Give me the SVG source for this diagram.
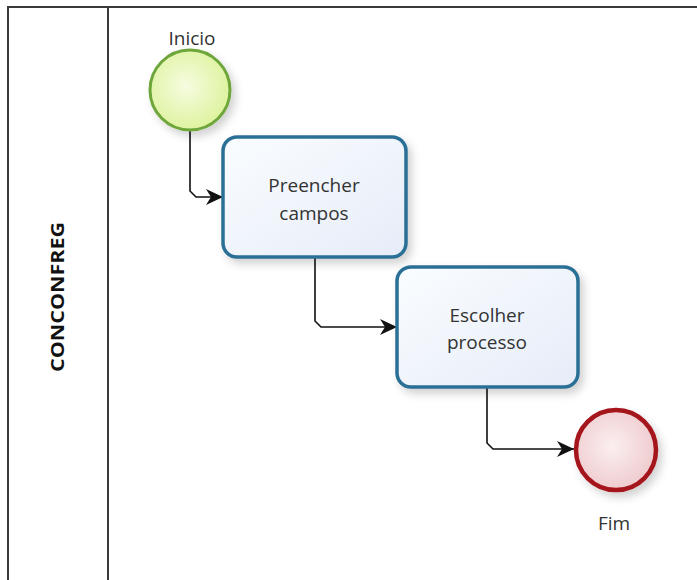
<svg xmlns="http://www.w3.org/2000/svg" width="697" height="580" viewBox="0 0 697 580">
  <defs>
    <style>
      .lane { stroke: #3a3a3a; stroke-width: 2; fill: none; }
      .lbl { font-family: "Open Sans", "Noto Sans", sans-serif; font-size: 19px; fill: #333; text-anchor: middle; }
      .task { fill: url(#taskFill); stroke: #2b7096; stroke-width: 3.5; }
      .flow { stroke: #111; stroke-width: 1.6; fill: none; marker-end: url(#arrow); }
    </style>
    <linearGradient id="taskFill" x1="0" y1="0" x2="1" y2="1">
      <stop offset="0" stop-color="#fafdff"/>
      <stop offset="1" stop-color="#e6ecf8"/>
    </linearGradient>
    <radialGradient id="startFill" cx="0.45" cy="0.45" r="0.6">
      <stop offset="0" stop-color="#f6fce0"/>
      <stop offset="1" stop-color="#dcf29a"/>
    </radialGradient>
    <radialGradient id="endFill" cx="0.45" cy="0.45" r="0.6">
      <stop offset="0" stop-color="#fbeff0"/>
      <stop offset="1" stop-color="#eec9cc"/>
    </radialGradient>
    <filter id="shadow" x="-20%" y="-20%" width="150%" height="150%">
      <feDropShadow dx="4" dy="5" stdDeviation="4" flood-color="#000" flood-opacity="0.18"/>
    </filter>
    <marker id="arrow" markerWidth="18" markerHeight="16" refX="17" refY="8" orient="auto" markerUnits="userSpaceOnUse">
      <path d="M0,0 L17,8 L0,16 L5,8 Z" fill="#111"/>
    </marker>
  </defs>

  <!-- pool frame and lane header -->
  <g id="pool">
    <line class="lane" x1="8" y1="7" x2="697" y2="7"/>
    <line class="lane" x1="8" y1="6" x2="8" y2="580"/>
    <line class="lane" x1="108" y1="7" x2="108" y2="580"/>
    <text x="0" y="0" transform="translate(64,297) rotate(-90)" font-family="'Open Sans', 'Noto Sans', sans-serif" font-size="17" font-weight="bold" fill="#111" text-anchor="middle" textLength="150" lengthAdjust="spacingAndGlyphs">CONCONFREG</text>
  </g>

  <g id="connectors">
    <path class="flow" d="M190,130 L190,191 L196,197 L223,197"/>
    <path class="flow" d="M315,258 L315,321 L321,327 L397,327"/>
    <path class="flow" d="M487,388 L487,443 L493,449 L574,449"/>
  </g>

  <g id="start">
    <circle cx="190" cy="90" r="40" fill="url(#startFill)" stroke="#6ea63a" stroke-width="3" filter="url(#shadow)"/>
    <text class="lbl" x="192" y="45">Inicio</text>
  </g>

  <g id="task-preencher">
    <rect class="task" x="223" y="137" width="183" height="120" rx="14" filter="url(#shadow)"/>
    <text class="lbl" x="314" y="192">Preencher</text>
    <text class="lbl" x="314" y="220">campos</text>
  </g>

  <g id="task-escolher">
    <rect class="task" x="397" y="267" width="181" height="120" rx="14" filter="url(#shadow)"/>
    <text class="lbl" x="487" y="322">Escolher</text>
    <text class="lbl" x="487" y="349">processo</text>
  </g>

  <g id="end">
    <circle cx="616" cy="450" r="40" fill="url(#endFill)" stroke="#a5161d" stroke-width="4.5" filter="url(#shadow)"/>
    <text class="lbl" x="614" y="530">Fim</text>
  </g>
</svg>
